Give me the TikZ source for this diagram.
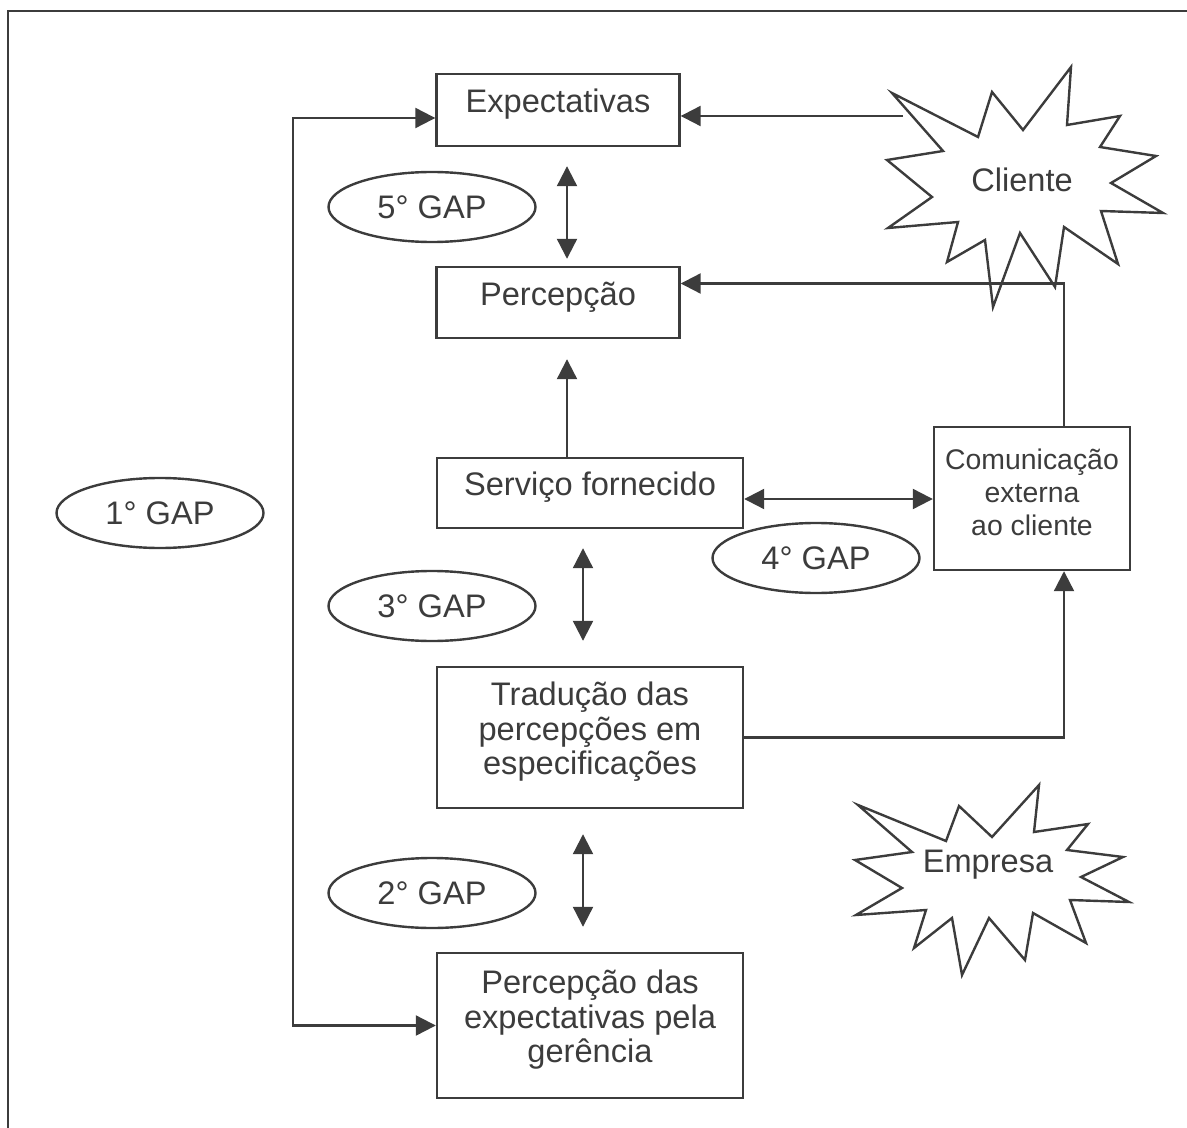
\documentclass[tikz,border=0pt]{standalone}
\usepackage{fontspec}
\setmainfont{Liberation Sans}
\usetikzlibrary{arrows.meta,shapes.geometric}
\definecolor{inkgray}{HTML}{3C3C3C}

\begin{document}
\begin{tikzpicture}[x=0.5pt,y=-0.5pt,
    every node/.style={text=inkgray,font=\fontsize{16.3}{17.2}\selectfont},
    box/.style={draw=inkgray,line width=1.2pt,align=center,inner sep=0pt,text depth=9pt},
    gap/.style={draw=inkgray,line width=1.2pt,ellipse,inner sep=0pt,
        minimum width=103.5pt,minimum height=35pt},
    arr/.style={draw=inkgray,line width=1.1pt,-{Triangle[length=10pt,width=10pt]}},
    dbl/.style={draw=inkgray,line width=1.1pt,
        {Triangle[length=10pt,width=10pt]}-{Triangle[length=10pt,width=10pt]}},
    burst/.style={draw=inkgray,line width=1.2pt,line join=miter}]
    \useasboundingbox (0,0) rectangle (1187,1128);

    % open frame
    \draw[inkgray,line width=1.2pt] (1187,11) -- (8,11) -- (8,1128);

    % boxes
    \node[box,minimum width=121.5pt,minimum height=36pt] (expect) at (558,110) {Expectativas};
    \node[box,minimum width=121.5pt,minimum height=35.5pt] (percep) at (558,302.5) {Percepção};
    \node[box,minimum width=153pt,minimum height=35pt] (servico) at (590,493) {Serviço fornecido};
    \node[box,minimum width=98pt,minimum height=71.5pt,text depth=6pt,
        font=\fontsize{14.2}{16.5}\selectfont] (comunic) at (1032,498.5)
        {Comunicação\\externa\\ao cliente};
    \node[box,minimum width=153pt,minimum height=70.5pt] (traducao) at (590,737.5)
        {Tradução das\\percepções em\\especificações};
    \node[box,minimum width=153pt,minimum height=72.5pt] (gerencia) at (590,1025.5)
        {Percepção das\\expectativas pela\\gerência};

    % gaps
    \node[gap] (gap5) at (432,207) {5° GAP};
    \node[gap] (gap1) at (160,513) {1° GAP};
    \node[gap] (gap4) at (816,558) {4° GAP};
    \node[gap] (gap3) at (432,606) {3° GAP};
    \node[gap] (gap2) at (432,893) {2° GAP};

    % starbursts
    \node (cliente) at (1022,180) {Cliente};
    \draw[burst] (892,93) -- (978,137) -- (992,92) -- (1023,130) -- (1071,67)
        -- (1067,125) -- (1120,116) -- (1100,147) -- (1156,156) -- (1111,183)
        -- (1163,213) -- (1101,211) -- (1118,264) -- (1064,227) -- (1055,287)
        -- (1020,233) -- (993,307) -- (985,240) -- (947,262) -- (958,222)
        -- (888,228) -- (932,197) -- (887,160) -- (943,151) -- cycle;
    \node (empresa) at (988,865) {Empresa};
    \draw[burst] (858,805) -- (946,841) -- (959,806) -- (992,837) -- (1039,785)
        -- (1034,832) -- (1088,824) -- (1067,850) -- (1123,857) -- (1081,877)
        -- (1129,902) -- (1070,900) -- (1086,943) -- (1033,913) -- (1025,960)
        -- (989,918) -- (962,975) -- (952,918) -- (914,948) -- (926,910)
        -- (856,915) -- (902,888) -- (855,860) -- (912,852) -- cycle;

    % connectors
    \coordinate (clientein) at (903,116);
    \draw[arr] (clientein) -- (clientein -| expect.east);
    \draw[dbl,shorten <=9.5pt,shorten >=3.5pt] ([xshift=4.5pt]expect.south) -- ([xshift=4.5pt]percep.north);
    \draw[arr,shorten >=10pt] ([xshift=-11.5pt]servico.north) -- ([xshift=-11.5pt]servico.north |- percep.south);
    \draw[arr] ([xshift=16pt]comunic.north) |- ([yshift=9.5pt]percep.east);
    \draw[dbl] ([yshift=-3pt]servico.east) -- ([yshift=-3pt]servico.east -| comunic.west);
    \draw[dbl,shorten <=9.5pt,shorten >=12.5pt] ([xshift=-3.5pt]servico.south) -- ([xshift=-3.5pt]traducao.north);
    \draw[arr] (traducao.east) -| ([xshift=16pt]comunic.south);
    \draw[dbl,shorten <=12.5pt,shorten >=12.5pt] ([xshift=-3.5pt]traducao.south) -- ([xshift=-3.5pt]gerencia.north);
    \draw[dbl] ([yshift=-4pt]expect.west) -- ++(-142,0) |- (gerencia.west);
\end{tikzpicture}
\end{document}
